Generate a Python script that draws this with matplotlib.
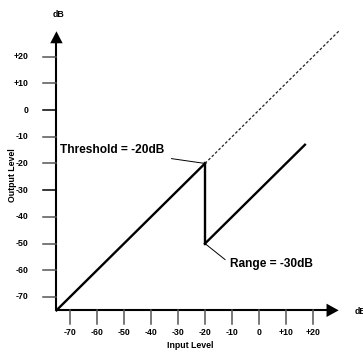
import matplotlib
matplotlib.use('Agg')
import matplotlib.pyplot as plt

# tick values (dB)
x_ticks = [-70, -60, -50, -40, -30, -20, -10, 0, 10, 20]
y_ticks = [-70, -60, -50, -40, -30, -20, -10, 0, 10, 20]
tick_labels = ['-70', '-60', '-50', '-40', '-30', '-20', '-10', '0', '+10', '+20']

# transfer curve
below_x = [-75, -20]
below_y = [-75, -20]
drop_x = [-20, -20]
drop_y = [-20, -50]
above_x = [-20, 17]
above_y = [-50, -13]
# unity line (no gating)
unity_x = [-20, 30]
unity_y = [-20, 30]

threshold = -20
range_db = -30

plt.rcParams['font.family'] = ['Liberation Sans', 'DejaVu Sans']
plt.rcParams['font.weight'] = 'bold'

fig = plt.figure(figsize=(3.63, 3.52), dpi=100)
ax = fig.add_axes([0, 0, 1, 1])
ax.set_xlim(-95.9, 38.5)
ax.set_ylim(-90.6, 41.2)
ax.axis('off')

# axes with arrows
ax.plot([-75, 25], [-75, -75], color='black', lw=1.5, solid_capstyle='butt')
ax.plot([-75, -75], [-75, 25], color='black', lw=1.5, solid_capstyle='butt')
ax.fill([25, 25, 29.5], [-72.5, -77.5, -75], color='black', lw=0)
ax.fill([-77.3, -72.7, -75], [25, 25, 29.5], color='black', lw=0)

# ticks
for i in range(len(x_ticks)):
    ax.plot([x_ticks[i], x_ticks[i]], [-75, -80], color='#555555', lw=1.1)
    ax.text(x_ticks[i], -83.3, tick_labels[i], ha='center', va='center', fontsize=6.3)
for i in range(len(y_ticks)):
    c = 'black' if y_ticks[i] in (0, -30) else '#555555'
    ax.plot([-80, -75], [y_ticks[i], y_ticks[i]], color=c, lw=1.1)
    ax.text(-85.3, y_ticks[i], tick_labels[i], ha='right', va='center', fontsize=6.3)

ax.text(-74.3, 35.8, 'dB', ha='center', va='center', fontsize=6.3)
ax.text(35.3, -75.5, 'dB', ha='left', va='center', fontsize=6.3)
ax.text(-25.5, -88.2, 'Input Level', ha='center', va='center', fontsize=6.3)
ax.text(-91.3, -24.5, 'Output Level', ha='center', va='center', fontsize=6.3, rotation=90)

# curve
ax.plot(below_x, below_y, color='black', lw=1.7)
ax.plot(drop_x, drop_y, color='black', lw=1.7)
ax.plot(above_x, above_y, color='black', lw=1.7)
ax.plot(unity_x, unity_y, color='#222222', lw=0.9, dashes=(2.2, 1.6))

# annotations
ax.annotate('Threshold = -20dB', xy=(threshold, threshold), xytext=(-73.6, -15),
            fontsize=8.6, ha='left', va='center',
            arrowprops=dict(arrowstyle='-', color='black', lw=0.7, shrinkA=3, shrinkB=0))
ax.annotate('Range = %ddB' % range_db, xy=(threshold, threshold + range_db), xytext=(-10.7, -57.5),
            fontsize=8.6, ha='left', va='center',
            arrowprops=dict(arrowstyle='-', color='black', lw=0.7, shrinkA=2, shrinkB=0,
                            relpos=(0, 0.5)))

plt.savefig('out.png', dpi=100)
